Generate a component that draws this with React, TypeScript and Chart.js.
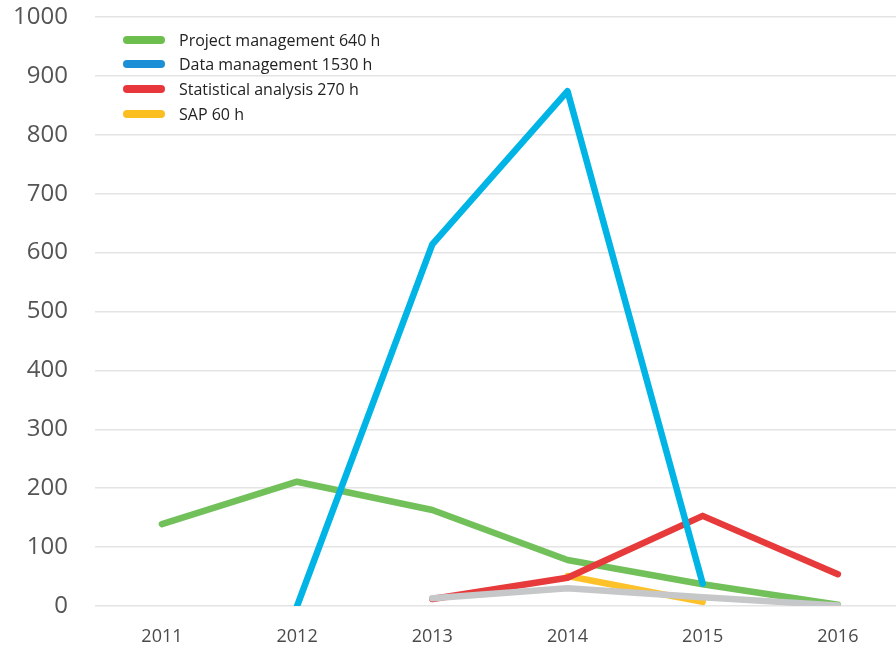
import React, { useEffect, useRef } from "react";
import { Chart, registerables } from "chart.js";

Chart.register(...registerables);

const years = [2011, 2012, 2013, 2014, 2015, 2016];
const projectManagement = [139, 211, 163, 78, 37, 2];
const dataManagement = [null, 0, 614, 874, 38, null];
const statisticalAnalysis = [null, null, 12, 48, 153, 54];
const sap = [null, null, null, 51, 7, null];
const other = [null, null, 13, 30, 15, 1];

const yTicks = [0, 100, 200, 300, 400, 500, 600, 700, 800, 900, 1000];

const legendLabels = [
  "Project management 640 h",
  "Data management 1530 h",
  "Statistical analysis 270 h",
  "SAP 60 h",
];
const legendColors = ["#6cbf4c", "#1c8fd7", "#e8373c", "#fbbf22"];

const toPoints = (vals: (number | null)[]) =>
  years.map((y, i) => ({ x: y, y: vals[i] }));

const legendPlugin = {
  id: "customLegend",
  afterDraw(chart: any) {
    const ctx = chart.ctx;
    ctx.save();
    const rows = [40, 64, 89, 114];
    legendLabels.forEach((label, i) => {
      const y = rows[i];
      ctx.strokeStyle = legendColors[i];
      ctx.lineWidth = 8;
      ctx.lineCap = "round";
      ctx.beginPath();
      ctx.moveTo(127, y);
      ctx.lineTo(161, y);
      ctx.stroke();
      ctx.fillStyle = "#222";
      ctx.font = "16px 'Open Sans'";
      ctx.textBaseline = "middle";
      ctx.textAlign = "left";
      ctx.fillText(label, 179, y + 1);
    });
    ctx.restore();
  },
};

export default function App() {
  const ref = useRef<HTMLCanvasElement>(null);
  useEffect(() => {
    if (!ref.current) return;
    const common = {
      borderWidth: 6.5,
      pointRadius: 0,
      borderCapStyle: "round" as const,
      borderJoinStyle: "round" as const,
      tension: 0,
      fill: false,
    };
    const chart = new Chart(ref.current, {
      type: "line",
      data: {
        datasets: [
          { label: legendLabels[0], data: toPoints(projectManagement), borderColor: "#72c05a", order: 4, ...common },
          { label: legendLabels[1], data: toPoints(dataManagement), borderColor: "#00b5e6", order: 1, ...common },
          { label: legendLabels[2], data: toPoints(statisticalAnalysis), borderColor: "#e63a3b", order: 3, ...common },
          { label: legendLabels[3], data: toPoints(sap), borderColor: "#fdc12a", order: 5, ...common },
          { label: "Other", data: toPoints(other), borderColor: "#c5c7c9", order: 2, ...common },
        ] as any,
      },
      options: {
        animation: false,
        responsive: true,
        maintainAspectRatio: false,
        layout: { padding: { left: 0, right: 0, top: 17, bottom: 0 } },
        plugins: { legend: { display: false }, tooltip: { enabled: false } },
        scales: {
          x: {
            type: "linear",
            min: 2010.505,
            max: 2016.43,
            afterBuildTicks: (scale: any) => {
              scale.ticks = years.map((v) => ({ value: v }));
            },
            afterFit: (scale: any) => {
              scale.height = 40;
              scale.paddingLeft = 0;
              scale.paddingRight = 0;
            },
            grid: { display: false, drawTicks: false },
            border: { display: false },
            ticks: {
              autoSkip: false,
              maxRotation: 0,
              padding: 20,
              color: "#4a4a4a",
              font: { family: "'Open Sans'", size: 18 },
              callback: (v: any) => String(v),
            },
          },
          y: {
            min: 0,
            max: 1000,
            afterBuildTicks: (scale: any) => {
              scale.ticks = yTicks.map((v) => ({ value: v }));
            },
            afterFit: (scale: any) => {
              scale.width = 95;
              scale.paddingTop = 0;
              scale.paddingBottom = 0;
            },
            grid: { color: "#e4e4e4", lineWidth: 1.5, drawTicks: false },
            border: { display: false },
            ticks: {
              padding: 27,
              color: "#555",
              font: { family: "'Open Sans'", size: 24 },
              callback: (v: any) => String(v),
            },
          },
        },
      } as any,
      plugins: [legendPlugin],
    });
    return () => chart.destroy();
  }, []);
  return (
    <div style={{ position: "fixed", left: 0, top: 0, width: 896, height: 646, background: "#fff" }}>
      <canvas ref={ref} />
    </div>
  );
}
